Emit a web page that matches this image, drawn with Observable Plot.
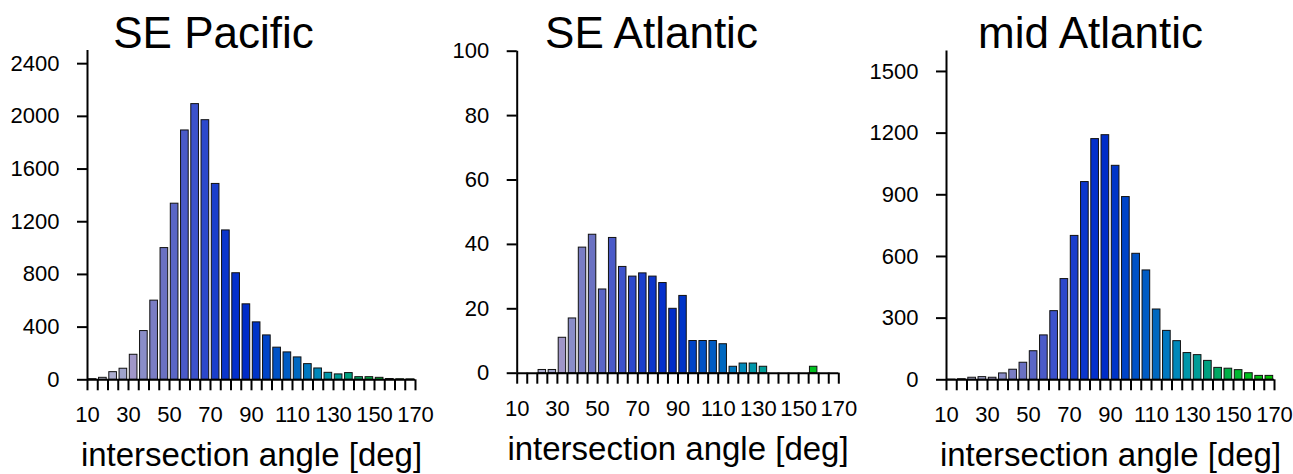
<!DOCTYPE html>
<html>
<head>
<meta charset="utf-8">
<script src="https://cdn.jsdelivr.net/npm/d3@7"></script>
<script src="https://cdn.jsdelivr.net/npm/@observablehq/plot@0.6"></script>
<style>
  html, body { margin: 0; padding: 0; background: #fff; }
  #chart { position: relative; width: 1293px; height: 474px; overflow: hidden; }
  #chart svg { position: absolute; top: 0; }
</style>
</head>
<body>
<div id="chart"></div>
<script>
// 5-degree bins of front intersection angle
const binLo = [10, 15, 20, 25, 30, 35, 40, 45, 50, 55, 60, 65, 70, 75, 80, 85,
               90, 95, 100, 105, 110, 115, 120, 125, 130, 135, 140, 145, 150, 155, 160, 165];
const binHi = [15, 20, 25, 30, 35, 40, 45, 50, 55, 60, 65, 70, 75, 80, 85, 90,
               95, 100, 105, 110, 115, 120, 125, 130, 135, 140, 145, 150, 155, 160, 165, 170];

// counts per bin
const sePacific = [5, 15, 58, 84, 190, 370, 601, 1000, 1337, 1893, 2093, 1971, 1487, 1134, 809, 573,
                   436, 337, 244, 208, 170, 119, 86, 53, 41, 51, 20, 20, 15, 6, 4, 3];
const seAtlantic = [0, 0, 1, 1, 11, 17, 39, 43, 26, 42, 33, 30, 31, 30, 28, 20,
                    24, 10, 10, 10, 9, 2, 3, 3, 2, 0, 0, 0, 0, 2, 0, 0];
const midAtlantic = [1, 3, 10, 13, 10, 31, 49, 83, 139, 216, 334, 490, 700, 962, 1171, 1190,
                     1041, 889, 613, 532, 342, 238, 188, 130, 120, 92, 58, 54, 47, 32, 19, 19];

// axis ticks
const xTickValues = [10, 15, 20, 25, 30, 35, 40, 45, 50, 55, 60, 65, 70, 75, 80, 85, 90,
                     95, 100, 105, 110, 115, 120, 125, 130, 135, 140, 145, 150, 155, 160, 165, 170];
const xTickLabels = [10, 30, 50, 70, 90, 110, 130, 150, 170];
const yTicksPacific = [0, 400, 800, 1200, 1600, 2000, 2400];
const yTicksSEAtlantic = [0, 20, 40, 60, 80, 100];
const yTicksMidAtlantic = [0, 300, 600, 900, 1200, 1500];

// colour of each angle bin (lavender -> blue -> teal -> green)
const binColors = ["#d4d4e2", "#c0c0d6", "#adaed0", "#9fa3cb", "#a096c8", "#8a8dc8", "#7a7dc4", "#6a71c2",
                   "#5a66c6", "#4a5ac8", "#3c52cc", "#2c48cc", "#1a3ecc", "#0c36cc", "#0430cc", "#002cc8",
                   "#0034c8", "#0044c8", "#0052c6", "#005cc4", "#0068c0", "#0078c0", "#0088ba", "#0096aa",
                   "#009c98", "#00a080", "#00a864", "#00b048", "#00b832", "#00c020", "#00c010", "#00c000"];

const FONT = '"Liberation Sans", Arial, Helvetica, sans-serif';

function panel({title, counts, yMax, yTicks, left, mL, mR, mT, mB, titleDx}) {
  const rows = counts.map((c, i) => ({lo: binLo[i], hi: binHi[i], n: c, col: binColors[i]}))
                     .filter(d => d.n > 0);
  const labelSet = new Set(xTickLabels);
  const svg = Plot.plot({
    width: 431,
    height: 474,
    marginLeft: mL,
    marginRight: mR,
    marginTop: mT,
    marginBottom: mB,
    style: {fontFamily: FONT, fontSize: "22px", color: "#000", background: "transparent", overflow: "visible"},
    x: {type: "linear", domain: [10, 170], label: null},
    y: {domain: [0, yMax], label: null},
    color: {type: "identity"},
    marks: [
      Plot.rectY(rows, {
        x1: "lo", x2: "hi", y: "n", fill: "col",
        stroke: "#111", strokeWidth: 1, insetLeft: 1.3, insetRight: 1.3
      }),
      Plot.ruleY([0], {strokeWidth: 2}),
      Plot.ruleX([10], {strokeWidth: 2}),
      Plot.axisY({
        ticks: yTicks, tickSize: 10, tickPadding: 18, strokeWidth: 2,
        fontSize: 22, tickFormat: d => String(d)
      }),
      Plot.axisX({
        ticks: xTickValues, tickSize: 11, tickPadding: 16, strokeWidth: 2,
        fontSize: 22, tickFormat: d => labelSet.has(d) ? String(d) : ""
      }),
      Plot.text([title], {
        text: d => d, frameAnchor: "top", lineAnchor: "bottom",
        dy: 47 - mT, dx: titleDx, fontSize: 44, fill: "#000"
      }),
      Plot.text(["intersection angle [deg]"], {
        text: d => d, frameAnchor: "bottom", lineAnchor: "bottom",
        dy: 86.5, fontSize: 33, fill: "#000"
      })
    ]
  });
  svg.style.left = left + "px";
  return svg;
}

const chart = document.getElementById("chart");
chart.append(
  panel({title: "SE Pacific", counts: sePacific, yMax: 2500, yTicks: yTicksPacific,
         left: 0, mL: 87, mR: 16, mT: 50, mB: 94.7, titleDx: -38}),
  panel({title: "SE Atlantic", counts: seAtlantic, yMax: 100, yTicks: yTicksSEAtlantic,
         left: 431, mL: 85.7, mR: 23.7, mT: 50.7, mB: 101.3, titleDx: -26.5}),
  panel({title: "mid Atlantic", counts: midAtlantic, yMax: 1600, yTicks: yTicksMidAtlantic,
         left: 862, mL: 84, mR: 19, mT: 50.4, mB: 94.7, titleDx: -20})
);
</script>
</body>
</html>
